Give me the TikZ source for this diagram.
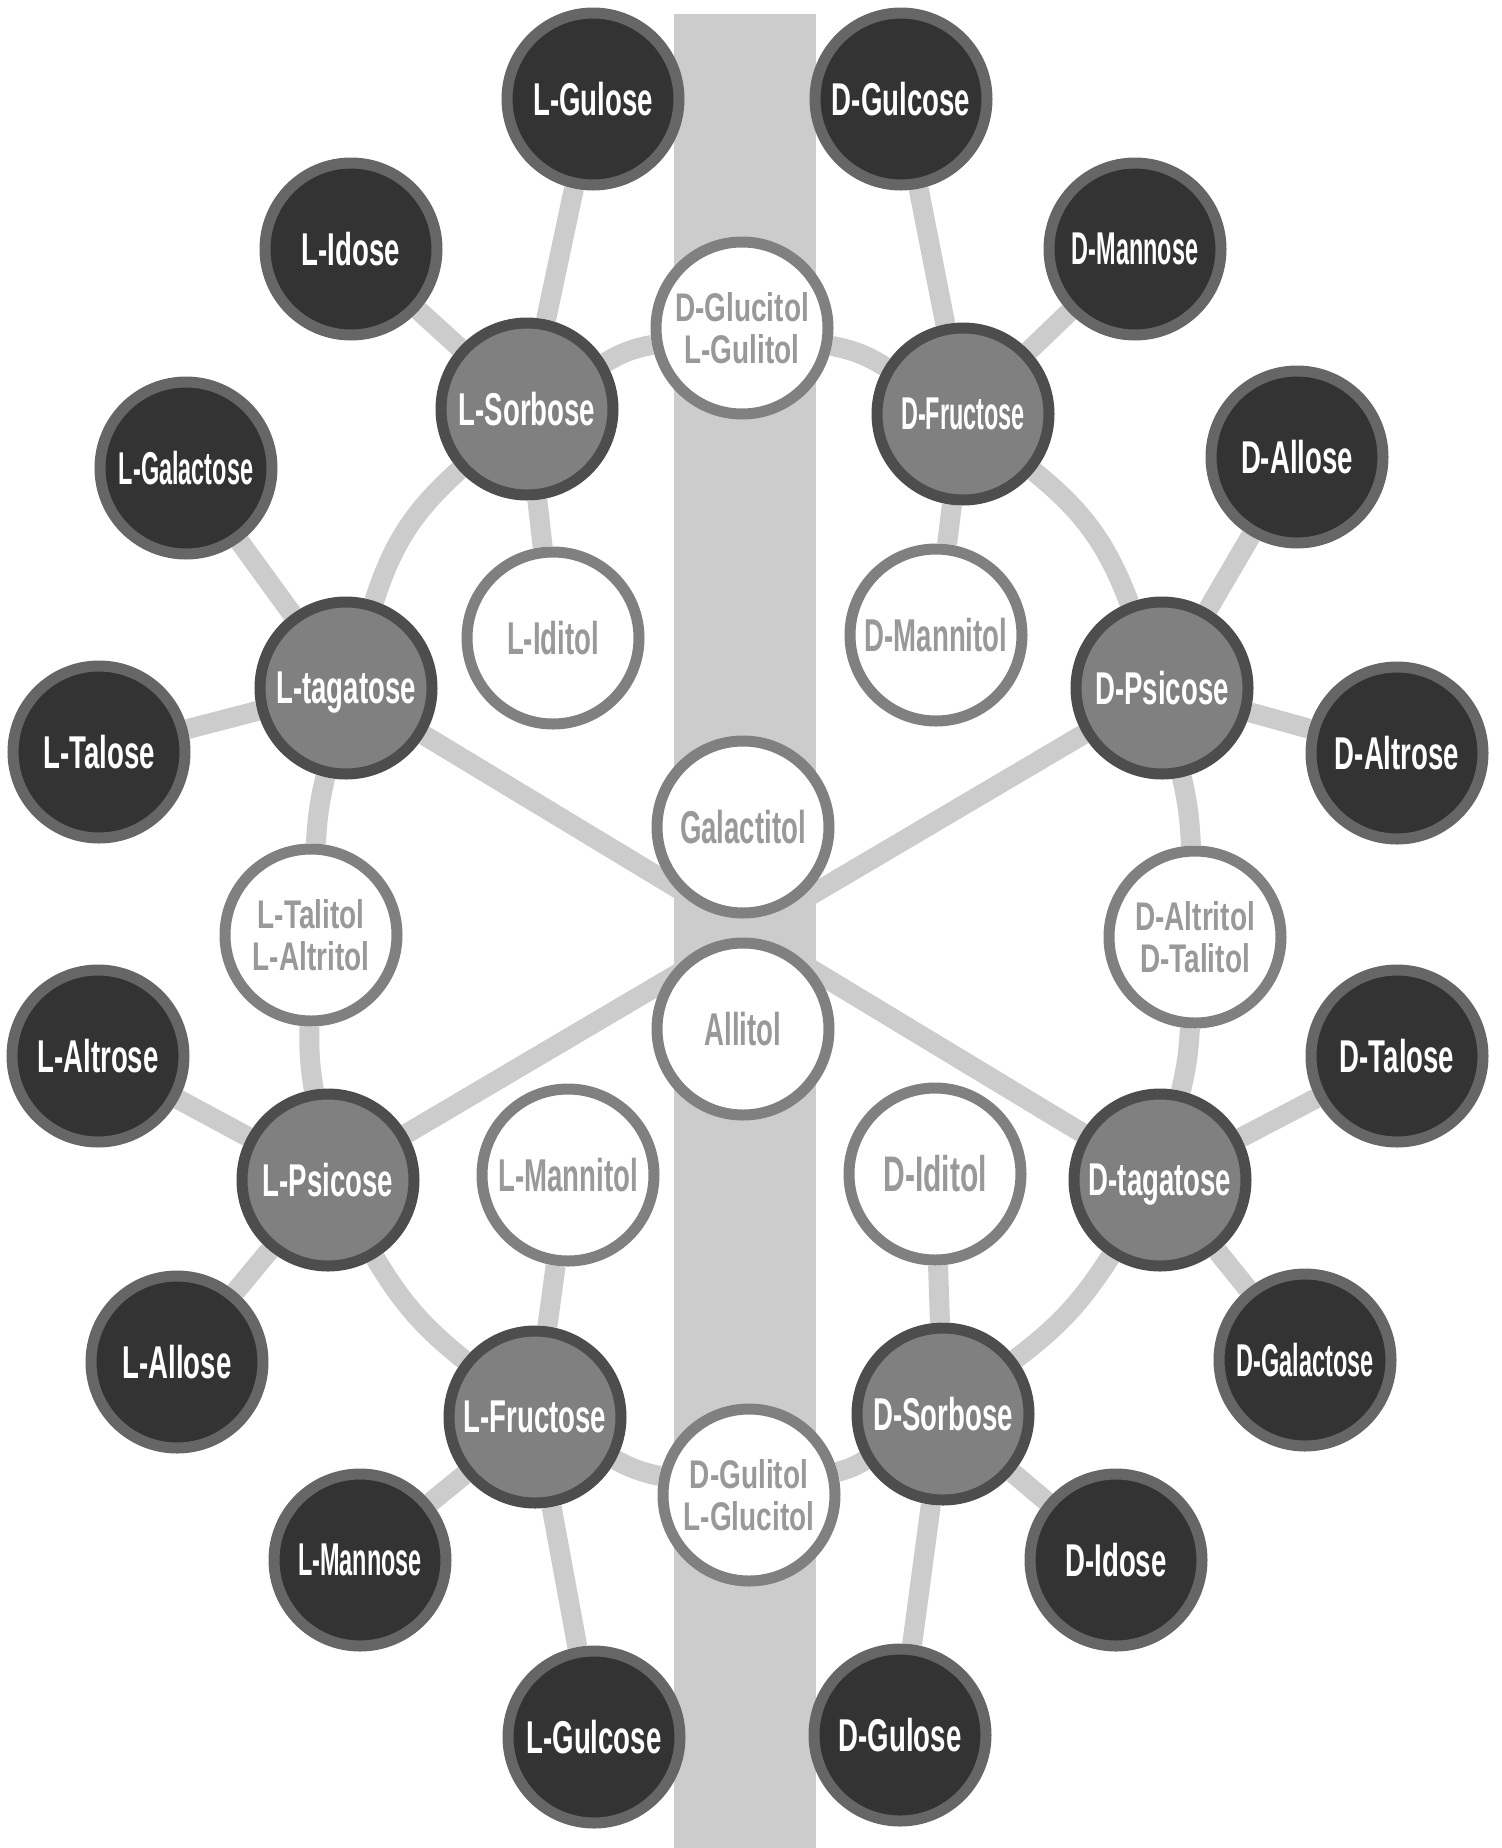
\documentclass[tikz,border=0pt]{standalone}
\usepackage{fontspec}
\setmainfont{Liberation Sans}[FakeStretch=0.6]
\newfontfamily\pairfont{Liberation Sans}[FakeStretch=0.7]
\definecolor{darkfill}{HTML}{333333}
\definecolor{darkring}{HTML}{666666}
\definecolor{midfill}{HTML}{808080}
\definecolor{midring}{HTML}{4D4D4D}
\definecolor{polyring}{HTML}{808080}
\definecolor{polytext}{HTML}{999999}
\definecolor{linkgray}{HTML}{CCCCCC}
\pgfdeclarelayer{links}
\pgfdeclarelayer{band}
\pgfsetlayers{links,band,main}
\newcommand{\slimtext}[1]{\scalebox{0.85}[1]{#1}}

\begin{document}
\begin{tikzpicture}
      [x=0.5pt, y=-0.5pt,
       sugar/.style={circle,minimum size=86pt,inner sep=0pt,line width=5.5pt,
         font=\fontsize{23}{20}\selectfont\bfseries,align=center},
       aldose node/.style={sugar,draw=darkring,fill=darkfill,text=white,text depth=0pt},
       ketose node/.style={sugar,draw=midring,fill=midfill,text=white,text depth=0pt},
       polyol node/.style={sugar,draw=polyring,fill=white,text=polytext},
       pair/.style={font=\pairfont\fontsize{20}{21}\selectfont\bfseries},
       link/.style={draw=linkgray,line width=10pt}]
      \useasboundingbox (0,0) rectangle (1502,1848);

      % aldoses
      \node[aldose node] (lgul) at (593,99) {L-Gulose};
      \node[aldose node] (dglc) at (901,99) {D-Gulcose};
      \node[aldose node] (lido) at (351,249) {L-Idose};
      \node[aldose node] (dman) at (1135,249) {\slimtext{D-Mannose}};
      \node[aldose node] (lgal) at (186,468) {\slimtext{L-Galactose}};
      \node[aldose node] (dall) at (1297,457) {D-Allose};
      \node[aldose node] (ltal) at (99,752) {L-Talose};
      \node[aldose node] (dalt) at (1397,753) {D-Altrose};
      \node[aldose node] (lalt) at (98,1056) {L-Altrose};
      \node[aldose node] (dtal) at (1397,1056) {D-Talose};
      \node[aldose node] (lall) at (177,1362) {L-Allose};
      \node[aldose node] (dgal) at (1305,1360) {\slimtext{D-Galactose}};
      \node[aldose node] (lman) at (360,1560) {\slimtext{L-Mannose}};
      \node[aldose node] (dido) at (1116,1560) {D-Idose};
      \node[aldose node] (lglc) at (594,1737) {L-Gulcose};
      \node[aldose node] (dgul) at (900,1735) {D-Gulose};

      % ketoses
      \node[ketose node] (lsor) at (527,409) {L-Sorbose};
      \node[ketose node] (dfru) at (963,414) {\slimtext{D-Fructose}};
      \node[ketose node] (ltag) at (346,688) {L-tagatose};
      \node[ketose node] (dpsi) at (1162,688) {D-Psicose};
      \node[ketose node] (lpsi) at (328,1180) {L-Psicose};
      \node[ketose node] (dtag) at (1160,1180) {D-tagatose};
      \node[ketose node] (lfru) at (535,1417) {L-Fructose};
      \node[ketose node] (dsor) at (943,1414) {D-Sorbose};

      % polyols
      \node[polyol node, pair] (gluc) at (742,328) {D-Glucitol\\L-Gulitol};
      \node[polyol node] (lidi) at (553,638) {L-Iditol};
      \node[polyol node] (dmat) at (936,635) {D-Mannitol};
      \node[polyol node] (gala) at (743,827) {Galactitol};
      \node[polyol node, pair] (ltlt) at (311,935) {L-Talitol\\L-Altritol};
      \node[polyol node, pair] (datl) at (1195,937) {D-Altritol\\D-Talitol};
      \node[polyol node] (alli) at (743,1029) {Allitol};
      \node[polyol node] (lmat) at (568,1175) {L-Mannitol};
      \node[polyol node, font=\fontsize{25}{20}\selectfont\bfseries] (didi) at (935,1174) {D-Iditol};
      \node[polyol node, pair] (guli) at (749,1495) {D-Gulitol\\L-Glucitol};

      \begin{pgfonlayer}{band}
        \fill[linkgray] (674,14) rectangle (816,1848);
      \end{pgfonlayer}

      \begin{pgfonlayer}{links}
        \draw[link] (lgul) -- (lsor) -- (lido);
        \draw[link] (lsor) -- (lidi);
        \draw[link] (dglc) -- (dfru) -- (dman);
        \draw[link] (dfru) -- (dmat);
        \draw[link] (lgal) -- (ltag) -- (ltal);
        \draw[link] (dall) -- (dpsi) -- (dalt);
        \draw[link] (lalt) -- (lpsi) -- (lall);
        \draw[link] (dtal) -- (dtag) -- (dgal);
        \draw[link] (lman) -- (lfru) -- (lglc);
        \draw[link] (dido) -- (dsor) -- (dgul);
        \draw[link] (lfru) -- (lmat);
        \draw[link] (dsor) -- (didi);
        \draw[link] (ltag) -- (dtag);
        \draw[link] (lpsi) -- (dpsi);
        % outer ring
        \draw[link] (gluc) to[bend left=10] (dfru);
        \draw[link] (dfru) to[bend left=15] (dpsi);
        \draw[link] (dpsi) to[bend left=5] (datl);
        \draw[link] (datl) to[bend left=5] (dtag);
        \draw[link] (dtag) to[bend left=10] (dsor);
        \draw[link] (dsor) to[bend left=8] (guli);
        \draw[link] (guli) to[bend left=8] (lfru);
        \draw[link] (lfru) to[bend left=10] (lpsi);
        \draw[link] (lpsi) to[bend left=5] (ltlt);
        \draw[link] (ltlt) to[bend left=5] (ltag);
        \draw[link] (ltag) to[bend left=15] (lsor);
        \draw[link] (lsor) to[bend left=10] (gluc);
      \end{pgfonlayer}
   \end{tikzpicture}
\end{document}
